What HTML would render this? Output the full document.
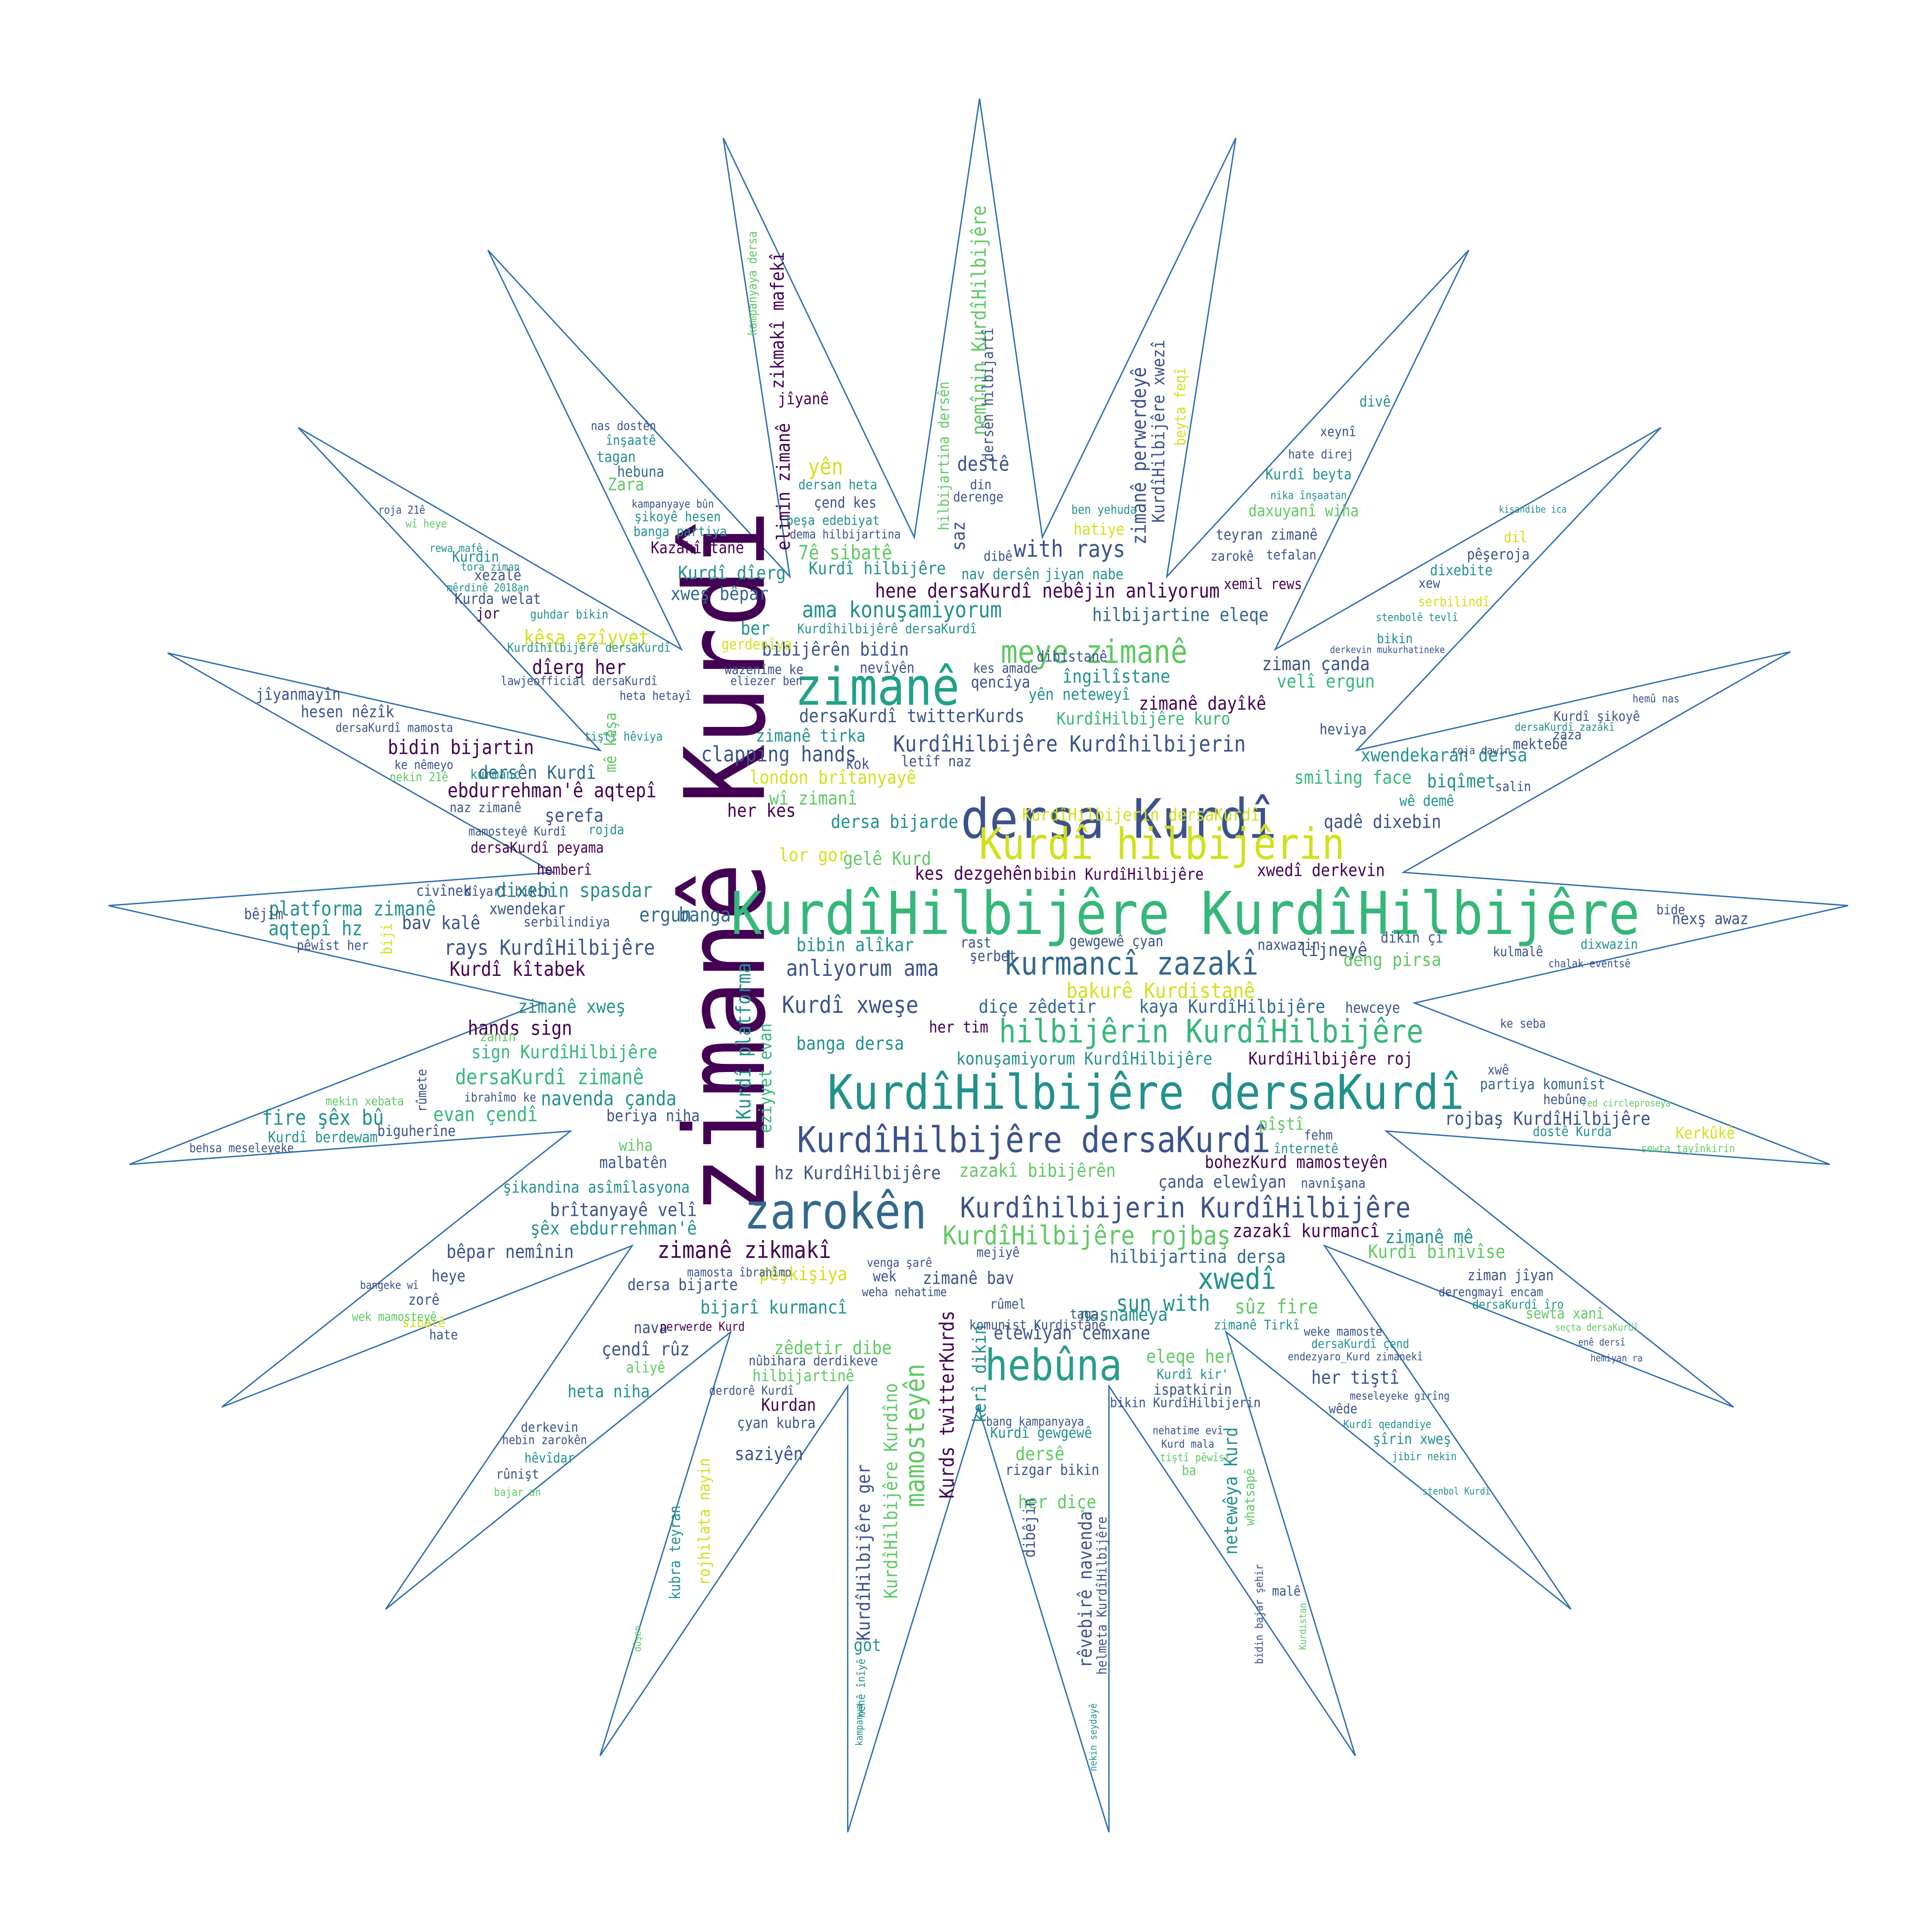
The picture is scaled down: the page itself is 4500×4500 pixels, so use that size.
<!DOCTYPE html>
<html><head><meta charset="utf-8"><title>Word cloud</title>
<style>
html,body{margin:0;padding:0;background:#fff;}
svg{display:block;}
text{font-family:"DejaVu Sans Mono","Liberation Mono",monospace;}
</style></head>
<body>
<svg id="cloud" width="4500" height="4500" viewBox="0 0 1568 1568" xmlns="http://www.w3.org/2000/svg">
<rect width="1568" height="1568" fill="#fff"/>
<polygon fill="none" stroke="#2f6fb0" stroke-width="1.1"
points="795,80 846,436 1003,112 947,468 1192,203 1035,527 1348,347 1101,609 1453,529 1139,708 1500,735 1148,814 1485,945 1125,918 1407,1142 1075,1011 1275,1306 995,1081 1100,1425 900,1125 900,1487 794,1142 688,1487 688,1125 487,1425 593,1081 313,1306 513,1011 180,1142 463,918 105,945 440,814 88,735 449,708 136,530 487,609 242,347 553,527 396,203 641,468 587,112 742,436"/>
<g id="words"></g>
</svg>
<script>
const P="#440154",B="#3b528b",T="#21918c",G="#35b779",L="#5ec962",Y="#d0e11c",N="#31688e",D="#482878";
const words=[
["zimanê Kurdî",620,700,90,P,-90],
["KurdîHilbijêre KurdîHilbijêre",962,758,48,G,0],
["dersa Kurdî",908,680,44,B,0],
["Kurdî hilbijêrin",943,697,35,Y,0],
["zimanê",712,572,42,"#1fa187",0],
["KurdîHilbijêre dersaKurdî",930,900,39,T,0],
["zarokên",678,997,40,N,0],
["hebûna",855,1120,35,"#2a9c8a",0],
["KurdîHilbijêre dersaKurdî",839,935,29,B,0],
["hilbijêrin KurdîHilbijêre",983,846,26,G,0],
["kurmancî zazakî",918,791,26,N,0],
["meye zimanê",888,538,26,L,0],
["Kurdîhilbijerin KurdîHilbijêre",962,988,23,B,0],
["KurdîHilbijêre rojbaş",882,1010,21,L,0],
["KurdîHilbijêre Kurdîhilbijerin",868,610,18,B,0],
["ama konuşamiyorum",732,501,18,T,0],
["hene dersaKurdî nebêjin anliyorum",850,485,16,P,0],
["clapping hands",632,618,17,B,0],
["anliyorum ama",700,792,18,B,0],
["Kurdî xweşe",690,822,19,B,0],
["diçe zêdetir",842,822,15,N,0],
["bakurê Kurdistanê",942,810,17,Y,0],
["kaya KurdîHilbijêre",1000,822,15,N,0],
["konuşamiyorum KurdîHilbijêre",880,864,14,T,0],
["KurdîHilbijêre roj",1080,864,14,P,0],
["dersaKurdî zimanê",446,880,17,G,0],
["navenda çanda",494,897,16,T,0],
["evan çendî",394,910,16,G,0],
["fire şêx bû",262,913,17,T,0],
["sign KurdîHilbijêre",458,859,15,G,0],
["hands sign",422,840,16,P,0],
["zimanê xweş",464,822,15,T,0],
["rays KurdîHilbijêre",446,775,17,B,0],
["Kurdî kîtabek",420,792,16,P,0],
["platforma zimanê",286,743,16,T,0],
["aqtepî hz",256,759,16,T,0],
["bav kalê",358,754,15,B,0],
["dixebin spasdar",466,728,16,T,0],
["ergun",540,748,16,N,0],
["banga",572,748,16,N,0],
["ebdurrehman'ê aqtepî",448,647,16,P,0],
["dersên Kurdî",436,632,15,N,0],
["bidin bijartin",374,612,16,P,0],
["şerefa",466,667,15,B,0],
["dersaKurdî peyama",436,692,12,P,0],
["hemberî",458,710,12,P,0],
["dîerg her",470,547,16,P,0],
["kêşa ezîyyet",476,523,16,Y,0],
["Kurdî dîerg",594,470,15,T,0],
["xweş bêpar",584,487,15,N,0],
["bibijêrên bidin",678,532,15,B,0],
["7ê sibatê",686,454,16,L,0],
["Kurdî hilbijêre",712,466,14,T,0],
["with rays",868,452,19,B,0],
["hilbijartine eleqe",958,504,15,N,0],
["îngilîstane",906,554,15,T,0],
["zimanê dayîkê",976,576,15,P,0],
["ziman çanda",1068,544,15,B,0],
["velî ergun",1076,558,15,G,0],
["KurdîHilbijêre kuro",928,588,14,G,0],
["dersaKurdî twitterKurds",740,586,15,B,0],
["zimanê tirka",658,602,14,T,0],
["london brîtanyayê",676,636,15,Y,0],
["wî zimanî",660,653,15,L,0],
["her kes",618,663,15,P,0],
["dersa bijarde",726,672,15,T,0],
["gelê Kurd",720,702,15,L,0],
["lor gor",660,699,15,Y,0],
["kes dezgehên",790,714,15,P,0],
["bibin KurdîHilbijêre",908,714,13,P,0],
["KurdîHilbijerin dersaKurdî",926,666,14,Y,0],
["xwendekaran dersa",1172,618,15,T,0],
["smiling face",1098,636,15,G,0],
["biqîmet",1186,639,15,T,0],
["qadê dixebin",1122,672,15,B,0],
["xwedî derkevin",1072,711,14,P,0],
["lijneyê",1082,776,15,B,0],
["deng pirsa",1130,784,15,L,0],
["xwedî",1004,1046,24,T,0],
["zimanê mê",1160,1009,15,T,0],
["zazakî kurmancî",1060,1004,15,P,0],
["hilbijartina dersa",972,1025,15,N,0],
["sun with",944,1064,18,T,0],
["sûz fire",1036,1066,16,L,0],
["çanda elewîyan",992,964,14,B,0],
["bohezKurd mamosteyên",1052,948,14,P,0],
["rojbaş KurdîHilbijêre",1256,913,15,B,0],
["Kurdî binivîse",1166,1021,15,L,0],
["zimanê zikmakî",604,1021,19,P,0],
["brîtanyayê velî",506,987,15,B,0],
["şêx ebdurrehman'ê",498,1002,15,T,0],
["bêpar nemînin",414,1021,15,B,0],
["hz KurdîHilbijêre",696,957,15,B,0],
["zazakî bibijêrên",842,955,15,L,0],
["pêşkişiya",652,1039,15,Y,0],
["bijarî kurmancî",628,1066,15,T,0],
["dersa bijarte",554,1047,13,B,0],
["zêdetir dibe",676,1099,15,L,0],
["çendî rûz",524,1100,15,B,0],
["heta niha",494,1134,14,T,0],
["Kurdan",640,1145,14,P,0],
["saziyên",624,1185,15,B,0],
["elewîyan cemxane",870,1087,15,B,0],
["nasnameya",912,1072,15,T,0],
["eleqe her",966,1106,15,L,0],
["her tiştî",1100,1123,15,B,0],
["her diçe",858,1224,15,L,0],
["dersê",844,1185,15,L,0],
["got",704,1340,14,T,0],
["mamosteyên",750,1165,22,L,-90],
["KurdîHilbijêre ger",706,1260,15,B,-90],
["KurdîHilbijêre Kurdîno",728,1210,15,L,-90],
["Kurds twitterKurds",774,1140,16,P,-90],
["kerî dikin",800,1115,15,T,-90],
["rêvebirê navenda",886,1290,15,B,-90],
["helmeta KurdîHilbijêre",898,1295,11,B,-90],
["netewêya Kurd",1004,1210,15,T,-90],
["whatsapê",1018,1215,11,L,-90],
["Kurdî platforma",609,845,16,T,-90],
["eziyyet evan",626,875,14,G,-90],
["zikmakî mafekî",636,260,15,P,-90],
["elimin zimanê",641,395,15,P,-90],
["kampanyaya dersa",614,230,10,L,-90],
["nemînin KurdîHilbijêre",800,260,16,L,-90],
["dersên hilbijartî",806,320,12,B,-90],
["hilbijartina dersên",770,370,12,L,-90],
["zimanê perwerdeyê",930,370,16,B,-90],
["KurdîHilbijêre xwezî",945,350,14,B,-90],
["beyta feqî",962,330,12,Y,-90],
["yên",670,385,18,Y,0],
["destê",798,382,16,B,0],
["saz",783,435,15,B,-90],
["jîyanê",652,328,13,P,0],
["dersan heta",680,397,11,T,0],
["çend kes",686,412,12,B,0],
["beşa edebiyat",676,426,11,T,0],
["dema hilbijartina",686,437,10,B,0],
["hatiye",892,434,13,Y,0],
["teyran zimanê",1028,438,12,B,0],
["xemil rews",1025,478,12,P,0],
["daxuyanî wiha",1058,419,13,L,0],
["Kurdî beyta",1062,389,12,T,0],
["dixebite",1186,467,12,T,0],
["pêşeroja",1216,454,12,B,0],
["jîyanmayîn",242,568,13,B,0],
["hesen nêzîk",282,582,13,B,0],
["Kazakîstanê",566,449,13,P,0],
["Zara",508,398,14,L,0],
["hebuna",520,387,12,N,0],
["tagan",500,375,12,T,0],
["înşaatê",512,361,11,T,0],
["nas dostên",506,349,10,B,0],
["Kurdin",386,456,12,T,0],
["xezalê",404,471,12,B,0],
["Kurda welat",404,490,12,B,0],
["jor",396,502,12,P,0],
["Kerkûkê",1384,924,13,Y,0],
["Kurdî şikoyê",1296,585,11,B,0],
["nexş awaz",1388,750,13,B,0],
["kulmalê",1232,776,11,B,0],
["bide",1356,742,11,B,0],
["hebûne",1270,896,11,B,0],
["dostê Kurda",1276,922,11,T,0],
["partiya komunîst",1252,884,12,N,0],
["ziman jîyan",1226,1039,12,B,0],
["sewta xanî",1270,1070,12,L,0],
["şîrin xweş",1146,1172,12,T,0],
["wêde",1090,1147,11,B,0],
["heye",364,1040,13,B,0],
["zorê",344,1059,12,B,0],
["bangeke wî",316,1046,9,B,0],
["derkevin",446,1162,11,B,0],
["hebin zarokên",442,1172,10,B,0],
["hêvîdar",446,1187,11,T,0],
["rûnişt",420,1200,11,B,0],
["pîştî",1040,917,14,L,0],
["bibin alîkar",694,772,15,T,0],
["banga dersa",690,852,15,T,0],
["her tim",778,838,13,P,0],
["malbatên",514,948,13,B,0],
["şikandina asîmîlasyona",484,968,13,T,0],
["beriya niha",530,910,13,B,0],
["wiha",516,934,13,L,0],
["ispatkirin",968,1132,12,B,0],
["bikin KurdîHilbijerin",962,1142,11,B,0],
["Kurdî gewgewê",845,1167,12,T,0],
["rizgar bikin",854,1197,12,B,0],
["dibêjin",840,1240,13,B,-90],
["kubra teyran",552,1260,12,T,-90],
["rojhilata nayin",576,1235,13,Y,-90],
["malê",1044,1295,11,B,0],
["çyan kubra",630,1159,12,B,0],
["hilbijartinê",652,1121,13,L,0],
["nava",528,1082,13,B,0],
["aliyê",524,1114,12,L,0],
["qencîya",812,558,13,B,0],
["nevîyên",720,546,12,B,0],
["wazenîme ke",620,547,11,B,0],
["eliezer ben",622,556,10,B,0],
["ber",613,515,15,T,0],
["yên neteweyî",876,568,13,T,0],
["dibistanê",870,537,12,B,0],
["nav dersên",812,470,12,T,0],
["jiyan nabe",880,470,12,T,0],
["Kurdîhilbijêrê dersaKurdî",720,514,11,T,0],
["gerdenîya",614,527,12,Y,0],
["kok",696,624,12,B,0],
["letîf naz",760,622,12,B,0],
["rast",792,769,12,B,0],
["şerbet",806,780,12,B,0],
["gewgewê çyan",906,768,12,B,0],
["hewceye",1114,822,12,B,0],
["heviya",1090,596,12,B,0],
["naxwazin",1046,771,12,B,0],
["dikin çî",1146,765,12,B,0],
["mektebê",1250,608,12,B,0],
["salin",1228,642,11,B,0],
["wê demê",1158,654,12,T,0],
["xwendekar",428,742,13,B,0],
["serbilindiya",460,752,11,B,0],
["bêjim",214,746,12,B,0],
["civînek",360,727,12,B,0],
["dîyarî bikin",412,727,11,B,0],
["pêwîst her",270,771,11,B,0],
["biguherîne",338,922,12,B,0],
["Kurdî berdewam",262,927,12,T,0],
["rûmete",346,885,11,B,-90],
["ke nêmeyo",344,624,10,B,0],
["dersaKurdî mamosta",320,594,10,B,0],
["kurmanc",402,632,11,T,0],
["zaza",1272,600,11,B,0],
["dixwazin",1306,770,11,T,0],
["hemû nas",1344,570,9,B,0],
["xwê",1216,872,11,B,0],
["ke seba",1236,834,10,B,0],
["divê",1116,330,12,T,0],
["xeynî",1086,354,11,B,0],
["hate direj",1072,372,10,B,0],
["tefalan",1048,454,11,B,0],
["zarokê",1000,455,11,B,0],
["bikin",1132,522,11,T,0],
["xew",1160,477,11,B,0],
["dil",1230,440,12,Y,0],
["serbilindî",1180,492,11,Y,0],
["derenge",794,407,11,B,0],
["din",796,397,11,B,0],
["dibê",810,455,11,B,0],
["kes amade",816,546,11,B,0],
["ba",965,1197,11,L,0],
["kampanyaye bûn",546,412,9,B,0],
["şikoyê hesen",550,423,11,T,0],
["banga partiya",552,435,11,T,0],
["ben yehuda",896,417,10,T,0],
["fehm",1070,925,11,B,0],
["înternetê",1060,936,11,T,0],
["navnîşana",1082,964,11,B,0],
["derengmayî encam",1210,1052,10,B,0],
["chalak eventsê",1290,785,9,B,0],
["mejiyê",810,1020,11,B,0],
["taga",880,1070,11,B,0],
["rûmel",818,1062,11,B,0],
["nûbihara derdikeve",660,1108,11,B,0],
["derdorê Kurdî",610,1132,10,B,0],
["naz zimanê",394,659,11,B,0],
["rojda",492,677,11,T,0],
["mamosteyê Kurdî",420,678,10,B,0],
["biji",318,762,12,Y,-90],
["zanîn",404,845,11,L,0],
["ibrahîmo ke",406,894,10,B,0],
["mekin xebata",296,897,10,L,0],
["behsa meseleyeke",196,935,10,B,0],
["nekin 21ê",340,634,10,L,0],
["lawjeofficial dersaKurdî",470,556,10,B,0],
["heta hetayî",532,568,10,B,0],
["tiştî hêviya",506,601,10,T,0],
["kêşa",500,592,13,L,-90],
["mê",500,620,13,L,-90],
["sibatê",344,1077,11,Y,0],
["wek mamosteyê",320,1072,10,L,0],
["hate",360,1087,11,B,0],
["bajar an",420,1214,9,L,0],
["mamosta îbrahîmo",600,1036,10,B,0],
["perwerde Kurd",570,1080,10,P,0],
["wek",718,1040,12,B,0],
["venga şarê",730,1028,10,B,0],
["weha nehatime",734,1052,10,B,0],
["zimanê bav",786,1042,14,B,0],
["komunist Kurdistanê",842,1079,11,B,0],
["bang kampanyaya",840,1157,10,B,0],
["zimanê Tirkî",1020,1079,11,T,0],
["weke mamoste",1090,1084,10,B,0],
["Kurdî kir'",968,1119,11,T,0],
["endezyaro_Kurd zimanekî",1100,1104,9,B,0],
["dersaKurdî çend",1104,1094,10,T,0],
["meseleyeke girîng",1136,1136,9,B,0],
["Kurdî qedandiye",1126,1159,9,T,0],
["nehatime evî",964,1164,9,B,0],
["Kurd mala",964,1175,9,B,0],
["tiştî pêwîst",970,1186,9,L,0],
["roja 21ê",326,417,9,B,0],
["wî heye",346,428,9,L,0],
["rewa mafê",370,448,9,T,0],
["tora ziman",398,463,9,T,0],
["mêrdinê 2018an",396,480,9,T,0],
["guhdar bikin",462,502,10,T,0],
["Kurdîhilbijêrê dersaKurdî",478,529,10,T,0],
["kişandibe ica",1244,416,8,T,0],
["nika înşaatan",1062,405,9,T,0],
["stenbolê tevlî",1150,504,9,T,0],
["derkevin mukurhatineke",1126,530,8,B,0],
["dersaKurdî zazakî",1270,593,9,T,0],
["roja dawîn",1202,612,9,B,0],
["bidin bajar şehir",1025,1310,9,B,-90],
["Kurdistan",1060,1320,8,L,-90],
["dûşen",520,1330,8,L,-90],
["kampanya",700,1400,8,T,-90],
["mehê înîyê",702,1370,9,T,-90],
["nekin seydayê",890,1410,8,T,-90],
["sewta tayînkirin",1370,935,9,L,0],
["red circleproseya",1320,898,8,L,0],
["dersaKurdî îro",1232,1062,10,T,0],
["seçta dersaKurdî",1296,1080,8,L,0],
["enê dersî",1300,1092,8,B,0],
["hemiyan ra",1312,1105,8,B,0],
["stenbol Kurdî",1182,1213,8,T,0],
["jibir nekin",1156,1185,9,T,0]
];
const g=document.getElementById('words');
const NS="http://www.w3.org/2000/svg";
words.forEach(w=>{
  if(!w[3])return;
  const t=document.createElementNS(NS,'text');
  
  
  t.setAttribute('x',w[1]);t.setAttribute('y',w[2]);
  t.setAttribute('font-size',w[3]);t.setAttribute('fill',w[4]);
  t.setAttribute('text-anchor','middle');
  t.setAttribute('textLength',(w[0].length*w[3]*0.53).toFixed(1));
  t.setAttribute('lengthAdjust','spacingAndGlyphs');
  if(w[5])t.setAttribute('transform','rotate('+w[5]+' '+w[1]+' '+w[2]+')');
  t.textContent=w[0];
  g.appendChild(t);
});
</script>
</body></html>
